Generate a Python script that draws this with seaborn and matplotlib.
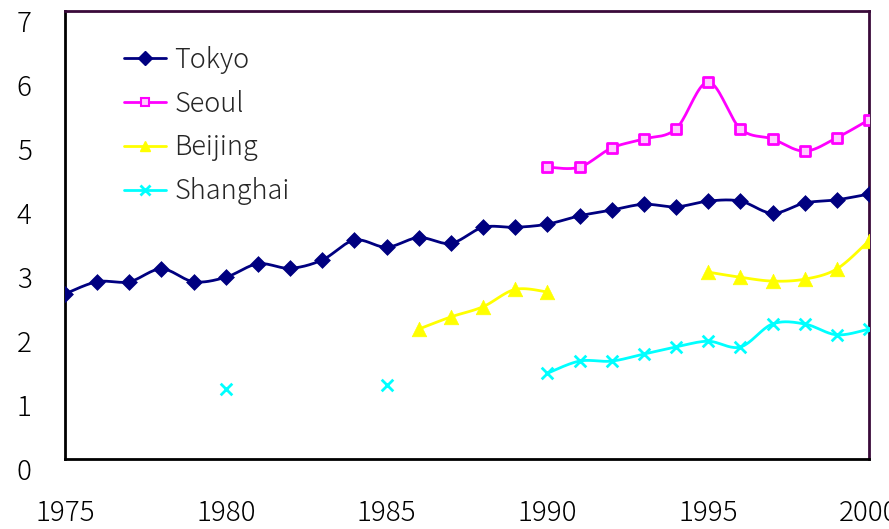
import numpy as np
import pandas as pd
import matplotlib
matplotlib.use("Agg")
import matplotlib.pyplot as plt
import matplotlib.transforms as mtransforms
from matplotlib.lines import Line2D
import seaborn as sns

years = list(range(1975, 2001))

tokyo = [2.58, 2.77, 2.77, 2.97, 2.77, 2.84, 3.05, 2.98, 3.11, 3.42, 3.31, 3.46, 3.37,
         3.62, 3.62, 3.67, 3.80, 3.89, 3.98, 3.94, 4.03, 4.03, 3.84, 4.00, 4.05, 4.14]
seoul = [None] * 15 + [4.56, 4.56, 4.86, 5.00, 5.16, 5.89, 5.16, 5.00, 4.81, 5.02, 5.30]
beijing = [None] * 11 + [2.03, 2.22, 2.38, 2.65, 2.61, None, None, None, None,
                         2.92, 2.84, 2.78, 2.81, 2.97, 3.41]
shanghai = [None] * 5 + [1.09, None, None, None, None, 1.16, None, None, None, None,
                         1.34, 1.53, 1.53, 1.64, 1.75, 1.84, 1.75, 2.11, 2.11, 1.94, 2.03]

cities = ["Tokyo", "Seoul", "Beijing", "Shanghai"]
series = [tokyo, seoul, beijing, shanghai]
colors = {"Tokyo": "#000080", "Seoul": "#FF00FF", "Beijing": "#FFFF00", "Shanghai": "#00FFFF"}
markers = {"Tokyo": "D", "Seoul": "s", "Beijing": "^", "Shanghai": "x"}
msize = {"Tokyo": 65, "Seoul": 45, "Beijing": 110, "Shanghai": 70}

x_ticks = [1975, 1980, 1985, 1990, 1995, 2000]
y_ticks = [0, 1, 2, 3, 4, 5, 6, 7]


def smooth_segment(xs, ys, n=20):
    """Catmull-Rom style smoothing through every point of a run."""
    xs = np.asarray(xs, float)
    ys = np.asarray(ys, float)
    if len(xs) < 2:
        return xs, ys
    px = np.concatenate([[xs[0]], xs, [xs[-1]]])
    py = np.concatenate([[ys[0]], ys, [ys[-1]]])
    outx, outy = [], []
    for i in range(1, len(px) - 2):
        p0 = np.array([px[i - 1], py[i - 1]])
        p1 = np.array([px[i], py[i]])
        p2 = np.array([px[i + 1], py[i + 1]])
        p3 = np.array([px[i + 2], py[i + 2]])
        c1 = p1 + (p2 - p0) / 6.0
        c2 = p2 - (p3 - p1) / 6.0
        t = np.linspace(0, 1, n, endpoint=(i == len(px) - 3))[:, None]
        pts = ((1 - t) ** 3) * p1 + 3 * ((1 - t) ** 2) * t * c1 + 3 * (1 - t) * t ** 2 * c2 + t ** 3 * p2
        outx.extend(pts[:, 0])
        outy.extend(pts[:, 1])
    return np.array(outx), np.array(outy)


rows = []
for city, vals in zip(cities, series):
    for yr, v in zip(years, vals):
        rows.append({"year": yr, "value": np.nan if v is None else v, "city": city})
df = pd.DataFrame(rows)

sns.set_style("white")
plt.rcParams["font.family"] = ["Noto Sans CJK JP", "DejaVu Sans"]

fig = plt.figure(figsize=(8.89, 5.29), dpi=100)
ax = fig.add_axes([65 / 889, 70 / 529, 804 / 889, 448 / 529])

for city in cities:
    d = df[df["city"] == city]
    # split into contiguous runs of observed years
    run_id = d["value"].isna().cumsum()
    for _, g in d.dropna().groupby(run_id[d["value"].notna()]):
        sx, sy = smooth_segment(g["year"].values, g["value"].values)
        seg = pd.DataFrame({"year": sx, "value": sy})
        sns.lineplot(data=seg, x="year", y="value", ax=ax, color=colors[city],
                     lw=2, estimator=None, sort=False, legend=False)
    pts = d.dropna()
    if markers[city] == "x":
        sns.scatterplot(data=pts, x="year", y="value", ax=ax, marker="x",
                        color=colors[city], s=msize[city], linewidth=2, legend=False, zorder=3)
    elif markers[city] == "s":
        sns.scatterplot(data=pts, x="year", y="value", ax=ax, marker="s",
                        facecolor="#FFCCFF", edgecolor=colors[city], s=msize[city],
                        linewidth=2, legend=False, zorder=3)
    else:
        sns.scatterplot(data=pts, x="year", y="value", ax=ax, marker=markers[city],
                        color=colors[city], edgecolor=colors[city], s=msize[city],
                        linewidth=0.5, legend=False, zorder=3)

ax.set_xlim(1975, 2000)
ax.set_ylim(0, 7)
ax.set_xticks(x_ticks)
ax.set_yticks(y_ticks)
ax.set_xlabel("")
ax.set_ylabel("")

ax.tick_params(axis="both", labelsize=20, colors="black")
ax.tick_params(axis="x", direction="in", length=12, width=2, pad=29)
ax.tick_params(axis="y", direction="in", length=12, width=2, pad=24)
ax.xaxis.get_major_ticks()[0].tick1line.set_visible(False)
ax.yaxis.get_major_ticks()[0].tick1line.set_visible(False)
ax.yaxis.get_major_ticks()[-1].tick1line.set_visible(False)

# y labels sit slightly below their tick marks
shift = mtransforms.ScaledTranslation(0, -10 / 100, fig.dpi_scale_trans)
for lbl in ax.get_yticklabels():
    lbl.set_transform(lbl.get_transform() + shift)
for lbl in ax.get_xticklabels() + ax.get_yticklabels():
    lbl.set_fontweight("light")

for side in ["left", "bottom"]:
    ax.spines[side].set_color("black")
    ax.spines[side].set_linewidth(2)
for side in ["top", "right"]:
    ax.spines[side].set_color("#3a0a3a")
    ax.spines[side].set_linewidth(2)
    ax.spines[side].set_visible(True)

handles = []
for city in cities:
    if markers[city] == "s":
        h = Line2D([0], [0], color=colors[city], lw=2, marker="s", markersize=6,
                   markerfacecolor="#FFCCFF", markeredgecolor=colors[city], markeredgewidth=1.5)
    elif markers[city] == "x":
        h = Line2D([0], [0], color=colors[city], lw=2, marker="x", markersize=7, markeredgewidth=2)
    else:
        h = Line2D([0], [0], color=colors[city], lw=2, marker=markers[city], markersize=7)
    handles.append(h)
leg = ax.legend(handles, cities, loc="upper left", bbox_to_anchor=(0.074, 0.922), frameon=False,
                fontsize=19.5, handlelength=1.55, handletextpad=0.3, labelspacing=0.58,
                borderpad=0, borderaxespad=0)
for t in leg.get_texts():
    t.set_fontweight("light")

fig.savefig("out.png", dpi=100)
